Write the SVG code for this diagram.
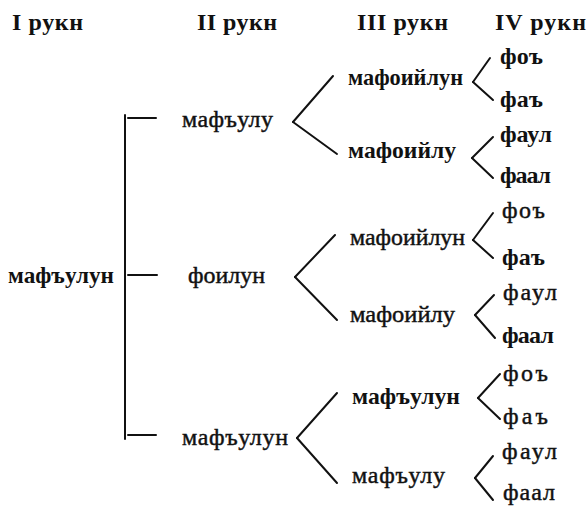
<svg xmlns="http://www.w3.org/2000/svg" width="588" height="506" viewBox="0 0 588 506">
<style>
text{font-family:"Liberation Serif","Times New Roman",serif;fill:#111;font-size:24px}
.h{font-weight:bold;font-size:24px}
.b{font-weight:bold}
.n{font-weight:normal;stroke:#111;stroke-width:0.45}
#connectors line{stroke:#111;stroke-width:2;stroke-linecap:round}
</style>
<rect width="588" height="506" fill="#fff"/>
<g id="headers">
<text class="h" x="12" y="30" textLength="71" lengthAdjust="spacing">I рукн</text>
<text class="h" x="197" y="30" textLength="80" lengthAdjust="spacing">II рукн</text>
<text class="h" x="357" y="30" textLength="91" lengthAdjust="spacing">III рукн</text>
<text class="h" x="495" y="30" textLength="91" lengthAdjust="spacing">IV рукн</text>
</g>
<g id="connectors">
<line x1="125" y1="115" x2="125" y2="439"/>
<line x1="128" y1="118" x2="156" y2="118"/>
<line x1="128" y1="275" x2="157" y2="275"/>
<line x1="128" y1="435" x2="156" y2="435"/>
<line x1="293" y1="122" x2="333" y2="76"/>
<line x1="293" y1="122" x2="337" y2="154"/>
<line x1="295" y1="277" x2="335" y2="235"/>
<line x1="295" y1="277" x2="337" y2="320"/>
<line x1="297" y1="438" x2="337" y2="393"/>
<line x1="297" y1="438" x2="337" y2="483"/>
<line x1="473" y1="82" x2="490" y2="58"/>
<line x1="473" y1="82" x2="493" y2="100"/>
<line x1="472" y1="158" x2="493" y2="137"/>
<line x1="472" y1="158" x2="493" y2="178"/>
<line x1="473" y1="240" x2="493" y2="213"/>
<line x1="473" y1="240" x2="493" y2="258"/>
<line x1="475" y1="315" x2="494" y2="295"/>
<line x1="475" y1="315" x2="495" y2="338"/>
<line x1="478" y1="398" x2="500" y2="374"/>
<line x1="478" y1="398" x2="500" y2="419"/>
<line x1="475" y1="478" x2="493" y2="456"/>
<line x1="475" y1="478" x2="493" y2="500"/>
</g>
<g id="n-I"><text class="b" x="8" y="283" textLength="106" lengthAdjust="spacingAndGlyphs">мафъулун</text></g>
<g id="n-II-1"><text class="n" x="182" y="127" textLength="91" lengthAdjust="spacing">мафъулу</text></g>
<g id="n-II-2"><text class="n" x="188" y="283" textLength="77" lengthAdjust="spacingAndGlyphs">фоилун</text></g>
<g id="n-II-3"><text class="n" x="182" y="445" textLength="106" lengthAdjust="spacing">мафъулун</text></g>
<g id="n-III-1"><text class="b" x="348" y="85" textLength="115" lengthAdjust="spacingAndGlyphs">мафоийлун</text></g>
<g id="n-III-2"><text class="b" x="348" y="158" textLength="108" lengthAdjust="spacingAndGlyphs">мафоийлу</text></g>
<g id="n-III-3"><text class="n" x="350" y="245" textLength="115" lengthAdjust="spacingAndGlyphs">мафоийлун</text></g>
<g id="n-III-4"><text class="n" x="350" y="322" textLength="105" lengthAdjust="spacingAndGlyphs">мафоийлу</text></g>
<g id="n-III-5"><text class="b" x="352" y="404" textLength="108" lengthAdjust="spacingAndGlyphs">мафъулун</text></g>
<g id="n-III-6"><text class="n" x="352" y="483" textLength="93" lengthAdjust="spacing">мафъулу</text></g>
<g id="n-IV-1"><text class="b" x="500" y="64" textLength="43" lengthAdjust="spacing">фоъ</text></g>
<g id="n-IV-2"><text class="b" x="500" y="107" textLength="43" lengthAdjust="spacing">фаъ</text></g>
<g id="n-IV-3"><text class="b" x="500" y="142" textLength="52" lengthAdjust="spacing">фаул</text></g>
<g id="n-IV-4"><text class="b" x="500" y="183" textLength="51" lengthAdjust="spacing">фаал</text></g>
<g id="n-IV-5"><text class="n" x="502" y="218" textLength="43" lengthAdjust="spacing">фоъ</text></g>
<g id="n-IV-6"><text class="b" x="502" y="265" textLength="43" lengthAdjust="spacing">фаъ</text></g>
<g id="n-IV-7"><text class="n" x="503" y="300" textLength="54" lengthAdjust="spacing">фаул</text></g>
<g id="n-IV-8"><text class="b" x="502" y="343" textLength="52" lengthAdjust="spacing">фаал</text></g>
<g id="n-IV-9"><text class="n" x="503" y="381" textLength="45" lengthAdjust="spacing">фоъ</text></g>
<g id="n-IV-10"><text class="n" x="503" y="424" textLength="45" lengthAdjust="spacing">фаъ</text></g>
<g id="n-IV-11"><text class="n" x="502" y="459" textLength="55" lengthAdjust="spacing">фаул</text></g>
<g id="n-IV-12"><text class="n" x="503" y="500" textLength="52" lengthAdjust="spacing">фаал</text></g>
</svg>
